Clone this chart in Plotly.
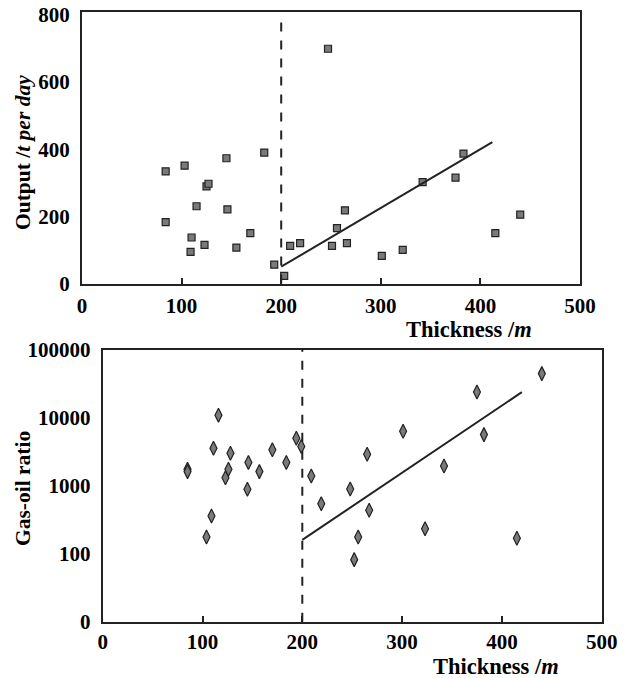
import plotly.graph_objects as go

# ---- Data: top panel (output vs thickness) ----
out_thick = [84, 84, 103, 115, 110, 109, 125, 127, 123, 145, 146, 155, 169, 183, 193, 203, 209, 219,
             247, 251, 256, 264, 266, 301, 322, 342, 375, 383, 415, 440]
out_value = [334, 183, 351, 230, 137, 94, 289, 297, 115, 373, 221, 107, 150, 390, 56, 23, 112, 120,
             699, 112, 165, 218, 120, 82, 100, 302, 315, 387, 150, 205]
out_trend_x = [200, 412]
out_trend_y = [50, 421]

# ---- Data: bottom panel (gas-oil ratio vs thickness) ----
gor_thick = [85, 85, 104, 109, 111, 116, 123, 126, 128, 145, 146, 157, 170, 184, 194, 199, 209,
             219, 248, 252, 256, 265, 267, 301, 323, 342, 375, 382, 415, 440]
gor_value = [1750, 1620, 177, 361, 3580, 10960, 1320, 1755, 3020, 890, 2200, 1620, 3410, 2200, 5020, 3785, 1400,
             547, 900, 82, 177, 2920, 437, 6370, 234, 1960, 24150, 5680, 169, 44900]
gor_trend_x = [200, 420]
gor_trend_y = [160, 24000]

divider_x = 200
x_ticks = [0, 100, 200, 300, 400, 500]
top_y_ticks = [0, 200, 400, 600, 800]
gor_tickvals = [10, 100, 1000, 10000, 100000]
gor_ticktext = ["0", "100", "1000", "10000", "100000"]

FONT = "Liberation Serif"
tickfont = dict(family=FONT, size=21, color="black", weight="bold")

fig = go.Figure()

fig.add_trace(go.Scatter(x=out_thick, y=out_value, mode="markers", xaxis="x", yaxis="y",
                         marker=dict(symbol="square", size=7, color="#7a7a7a",
                                     line=dict(color="#222", width=1.2)),
                         showlegend=False))
fig.add_trace(go.Scatter(x=out_trend_x, y=out_trend_y, mode="lines", xaxis="x", yaxis="y",
                         line=dict(color="#222", width=2), showlegend=False))
fig.add_trace(go.Scatter(x=[divider_x, divider_x], y=[0, 800], mode="lines", xaxis="x", yaxis="y",
                         line=dict(color="#222", width=2, dash="dash"), showlegend=False))

fig.add_trace(go.Scatter(x=gor_thick, y=gor_value, mode="markers", xaxis="x2", yaxis="y2",
                         marker=dict(symbol="diamond-tall", size=10, color="#7a7a7a",
                                     line=dict(color="#222", width=1.2)),
                         showlegend=False))
fig.add_trace(go.Scatter(x=gor_trend_x, y=gor_trend_y, mode="lines", xaxis="x2", yaxis="y2",
                         line=dict(color="#222", width=2), showlegend=False))
fig.add_trace(go.Scatter(x=[divider_x, divider_x], y=[10, 100000], mode="lines", xaxis="x2", yaxis="y2",
                         line=dict(color="#222", width=2, dash="dash"), showlegend=False))

W, H = 627, 678


def px(x):
    return x / W


def py(y):
    return 1 - y / H


axis_common = dict(showline=True, linecolor="#222", linewidth=2, mirror=True, showgrid=False,
                   zeroline=False, tickfont=tickfont, automargin=False, ticklabeloverflow="allow")

fig.update_layout(
    width=W, height=H, margin=dict(l=0, r=0, t=0, b=0),
    paper_bgcolor="white", plot_bgcolor="white",
    xaxis=dict(domain=[px(82), px(580)], range=[0, 500], tickvals=x_ticks, ticks="inside",
               ticklen=6, tickwidth=1.5, tickcolor="#222", anchor="y", ticklabelstandoff=2,
               **axis_common),
    yaxis=dict(domain=[py(283.5), py(11.5)], range=[0, 810], tickvals=top_y_ticks,
               ticks="", anchor="x", ticklabelstandoff=6, **axis_common),
    xaxis2=dict(domain=[px(102.7), px(601.7)], range=[0, 500], tickvals=x_ticks, ticks="inside",
                ticklen=6, tickwidth=1.5, tickcolor="#222", anchor="y2", ticklabelstandoff=0,
                **axis_common),
    yaxis2=dict(domain=[py(621.7), py(350)], type="log", range=[1, 5], tickvals=gor_tickvals,
                ticktext=gor_ticktext, ticks="", anchor="x2", ticklabelstandoff=6, **axis_common),
)

xtitle_font = dict(family=FONT, size=22.5, color="black")
ytitle_font = dict(family=FONT, size=21.5, color="black")
fig.add_annotation(text="<b>Thickness /<i>m</i></b>", xref="paper", yref="paper",
                   x=px(534), y=py(329), xanchor="right", yanchor="middle",
                   showarrow=False, font=xtitle_font)
fig.add_annotation(text="<b>Output /<i>t per day</i></b>", xref="paper", yref="paper",
                   x=px(23), y=py(153), xanchor="center", yanchor="middle", textangle=-90,
                   showarrow=False, font=ytitle_font)
fig.add_annotation(text="<b>Thickness /<i>m</i></b>", xref="paper", yref="paper",
                   x=px(561), y=py(666), xanchor="right", yanchor="middle",
                   showarrow=False, font=xtitle_font)
fig.add_annotation(text="<b>Gas-oil ratio</b>", xref="paper", yref="paper",
                   x=px(23), y=py(489), xanchor="center", yanchor="middle", textangle=-90,
                   showarrow=False, font=ytitle_font)

# remove the page's default 8px body margin so the figure fills the window exactly
fig.write_html("out.html", config={"displayModeBar": False},
               post_script="document.body.style.margin='0px';")
